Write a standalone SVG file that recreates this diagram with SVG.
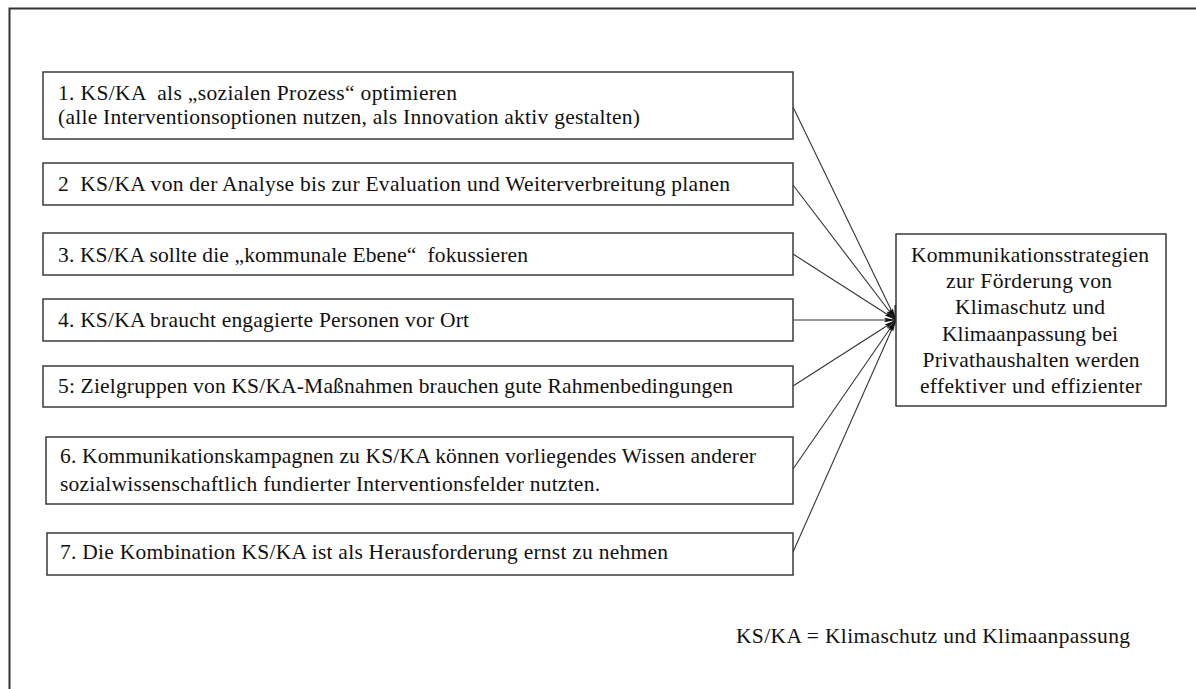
<svg xmlns="http://www.w3.org/2000/svg" width="1196" height="689" viewBox="0 0 1196 689">
<defs>
<style>
.box{fill:#fff;stroke:#3a3a3a;stroke-width:1.5}
.t{font-family:"Liberation Serif","Times New Roman",serif;font-size:21.5px;fill:#111}
.c{text-anchor:middle}
.ln{stroke:#333;stroke-width:1.1;fill:none}
</style>
<marker id="ah" viewBox="0 0 12 6" refX="12" refY="3" markerWidth="12" markerHeight="6" markerUnits="userSpaceOnUse" orient="auto">
<path d="M0,0.8 L12,3 L0,5.2 L2,3 z" fill="#111"/>
</marker>
</defs>
<rect width="1196" height="689" fill="#fff"/>
<path d="M9.5,689 V8.5 H1196" fill="none" stroke="#333" stroke-width="2"/>
<g id="connectors">
<line class="ln" x1="793" y1="107" x2="896" y2="320" marker-end="url(#ah)"/>
<line class="ln" x1="793" y1="185" x2="896" y2="320" marker-end="url(#ah)"/>
<line class="ln" x1="793" y1="254" x2="896" y2="320" marker-end="url(#ah)"/>
<line class="ln" x1="793" y1="320" x2="896" y2="320" marker-end="url(#ah)"/>
<line class="ln" x1="793" y1="386" x2="896" y2="320" marker-end="url(#ah)"/>
<line class="ln" x1="793" y1="469" x2="896" y2="320" marker-end="url(#ah)"/>
<line class="ln" x1="793" y1="552" x2="896" y2="320" marker-end="url(#ah)"/>
<line x1="896" y1="305" x2="896" y2="323" stroke="#111" stroke-width="3"/>
</g>
<g id="n1">
<rect class="box" x="43" y="72" width="750" height="67"/>
<text class="t" xml:space="preserve" x="58" y="100" textLength="399" lengthAdjust="spacing">1. KS/KA  als „sozialen Prozess“ optimieren</text>
<text class="t" x="58" y="124" textLength="582" lengthAdjust="spacing">(alle Interventionsoptionen nutzen, als Innovation aktiv gestalten)</text>
</g>
<g id="n2">
<rect class="box" x="43" y="163" width="750" height="42"/>
<text class="t" xml:space="preserve" x="58" y="191" textLength="672" lengthAdjust="spacing">2  KS/KA von der Analyse bis zur Evaluation und Weiterverbreitung planen</text>
</g>
<g id="n3">
<rect class="box" x="43" y="233" width="750" height="42"/>
<text class="t" xml:space="preserve" x="58" y="262" textLength="470" lengthAdjust="spacing">3. KS/KA sollte die „kommunale Ebene“  fokussieren</text>
</g>
<g id="n4">
<rect class="box" x="43" y="299" width="750" height="42"/>
<text class="t" x="58" y="327" textLength="411" lengthAdjust="spacing">4. KS/KA braucht engagierte Personen vor Ort</text>
</g>
<g id="n5">
<rect class="box" x="43" y="366" width="750" height="41"/>
<text class="t" x="58" y="393" textLength="675" lengthAdjust="spacing">5: Zielgruppen von KS/KA-Maßnahmen brauchen gute Rahmenbedingungen</text>
</g>
<g id="n6">
<rect class="box" x="46" y="437" width="747" height="67"/>
<text class="t" x="60" y="463" textLength="696" lengthAdjust="spacing">6. Kommunikationskampagnen zu KS/KA können vorliegendes Wissen anderer</text>
<text class="t" x="60" y="491" textLength="540" lengthAdjust="spacing">sozialwissenschaftlich fundierter Interventionsfelder nutzten.</text>
</g>
<g id="n7">
<rect class="box" x="47" y="533" width="746" height="42"/>
<text class="t" x="60" y="559" textLength="608" lengthAdjust="spacing">7. Die Kombination KS/KA ist als Herausforderung ernst zu nehmen</text>
</g>
<g id="target">
<rect class="box" x="896" y="234" width="270" height="172"/>
<text class="t c" x="1030" y="262" textLength="238" lengthAdjust="spacing">Kommunikationsstrategien</text>
<text class="t c" x="1029" y="288" textLength="166" lengthAdjust="spacing">zur Förderung von</text>
<text class="t c" x="1030" y="314" textLength="150" lengthAdjust="spacing">Klimaschutz und</text>
<text class="t c" x="1030" y="341" textLength="176" lengthAdjust="spacing">Klimaanpassung bei</text>
<text class="t c" x="1031" y="367" textLength="217" lengthAdjust="spacing">Privathaushalten werden</text>
<text class="t c" x="1031" y="393" textLength="222" lengthAdjust="spacing">effektiver und effizienter</text>
</g>
<g id="legend">
<text class="t" x="736" y="643" textLength="394" lengthAdjust="spacing">KS/KA = Klimaschutz und Klimaanpassung</text>
</g>
</svg>
